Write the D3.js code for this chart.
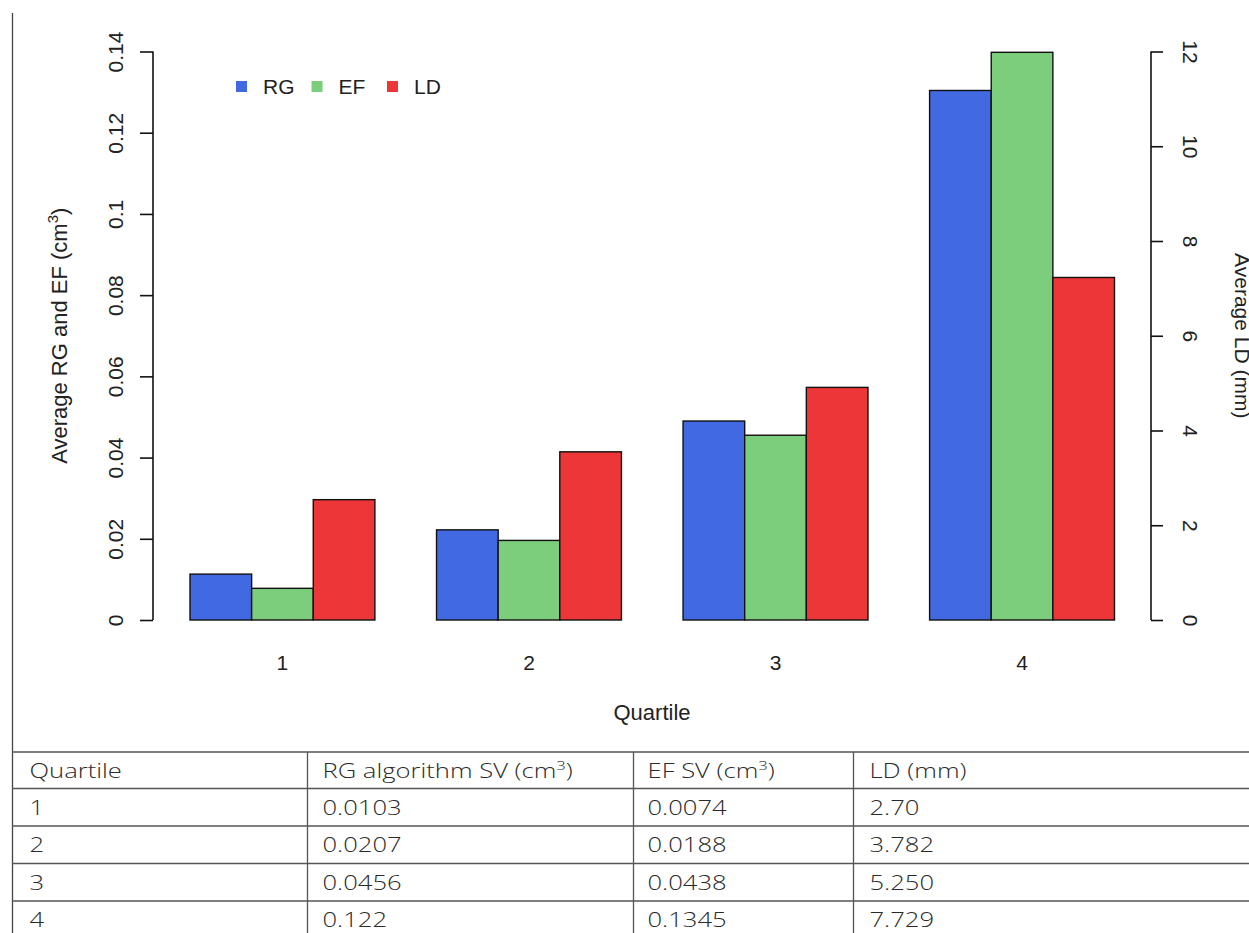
<!DOCTYPE html>
<html>
<head>
<meta charset="utf-8">
<script src="https://cdn.jsdelivr.net/npm/d3@7"></script>
<style>
  body { margin: 0; background: #fff; }
  svg { display: block; }
</style>
</head>
<body>
<svg width="1249" height="933"></svg>
<script>
// values
var quartiles = ["1", "2", "3", "4"];
var series = ["RG", "EF", "LD"];
var rgValues = [0.0113, 0.0222, 0.0490, 0.1304];
var efValues = [0.0078, 0.0196, 0.0455, 0.1398];
var ldValues = [2.54, 3.55, 4.91, 7.23];
var leftTicks = [0, 0.02, 0.04, 0.06, 0.08, 0.1, 0.12, 0.14];
var rightTicks = [0, 2, 4, 6, 8, 10, 12];
var colors = ["#4169e1", "#7ccd7c", "#ec3637"];

// table below the chart
var tableHeader = ["Quartile", "RG algorithm SV (cm|3|)", "EF SV (cm|3|)", "LD (mm)"];
var tableQuartile = ["1", "2", "3", "4"];
var tableRG = ["0.0103", "0.0207", "0.0456", "0.122"];
var tableEF = ["0.0074", "0.0188", "0.0438", "0.1345"];
var tableLD = ["2.70", "3.782", "5.250", "7.729"];

var svg = d3.select("svg");
var font = "'Liberation Sans', Arial, sans-serif";
var fs = 21;

var plot = {left: 153, right: 1151, top: 51.5, bottom: 620};

var yLeft = d3.scaleLinear().domain([0, 0.14]).range([plot.bottom, plot.top]);
var yRight = d3.scaleLinear().domain([0, 12]).range([plot.bottom, plot.top]);

var x0 = d3.scaleBand()
  .domain(quartiles)
  .range([190, 1114.5])
  .paddingInner(0.25)
  .paddingOuter(0);

var x1 = d3.scaleBand()
  .domain(series)
  .range([0, x0.bandwidth()]);

var rows = quartiles.map(function(q, i) {
  return [
    {key: "RG", q: q, y: yLeft(rgValues[i])},
    {key: "EF", q: q, y: yLeft(efValues[i])},
    {key: "LD", q: q, y: yRight(ldValues[i])}
  ];
});

var groups = svg.selectAll("g.grp")
  .data(rows)
  .enter().append("g")
  .attr("class", "grp")
  .attr("transform", function(d, i) { return "translate(" + x0(quartiles[i]) + ",0)"; });

groups.selectAll("rect")
  .data(function(d) { return d; })
  .enter().append("rect")
  .attr("x", function(d) { return x1(d.key); })
  .attr("y", function(d) { return d.y; })
  .attr("width", x1.bandwidth())
  .attr("height", function(d) { return plot.bottom - d.y; })
  .attr("fill", function(d, i) { return colors[i]; })
  .attr("stroke", "#111")
  .attr("stroke-width", 1.4);

// left axis
var leftAxis = svg.append("g")
  .attr("transform", "translate(" + plot.left + ",0)")
  .call(d3.axisLeft(yLeft).tickValues(leftTicks).tickSize(13)
    .tickFormat(function(d) { return String(+d.toFixed(2)); }));
leftAxis.select(".domain").attr("d", "M0," + plot.top + "V" + plot.bottom)
  .attr("stroke", "#111").attr("stroke-width", 1.6);
leftAxis.selectAll(".tick line").attr("stroke", "#111").attr("stroke-width", 1.6);
leftAxis.selectAll(".tick text")
  .attr("x", null).attr("dy", null)
  .attr("transform", "translate(-30,0) rotate(-90)")
  .attr("text-anchor", "middle")
  .attr("font-family", font).attr("font-size", fs).attr("fill", "#222");

// right axis
var rightAxis = svg.append("g")
  .attr("transform", "translate(" + plot.right + ",0)")
  .call(d3.axisRight(yRight).tickValues(rightTicks).tickSize(12));
rightAxis.select(".domain").attr("d", "M0," + plot.top + "V" + plot.bottom)
  .attr("stroke", "#111").attr("stroke-width", 1.6);
rightAxis.selectAll(".tick line").attr("stroke", "#111").attr("stroke-width", 1.6);
rightAxis.selectAll(".tick text")
  .attr("x", null).attr("dy", null)
  .attr("transform", "translate(32,0) rotate(90)")
  .attr("text-anchor", "middle")
  .attr("font-family", font).attr("font-size", fs).attr("fill", "#222");

// x labels
svg.selectAll("text.xlab")
  .data(quartiles)
  .enter().append("text")
  .attr("class", "xlab")
  .attr("x", function(d) { return x0(d) + x0.bandwidth() / 2; })
  .attr("y", 670)
  .attr("text-anchor", "middle")
  .attr("font-family", font).attr("font-size", fs).attr("fill", "#222")
  .text(function(d) { return d; });

svg.append("text")
  .attr("x", (plot.left + plot.right) / 2)
  .attr("y", 720)
  .attr("text-anchor", "middle")
  .attr("font-family", font).attr("font-size", 22).attr("fill", "#222")
  .text("Quartile");

// y titles
var yt = svg.append("text")
  .attr("transform", "translate(67," + (plot.top + plot.bottom) / 2 + ") rotate(-90)")
  .attr("text-anchor", "middle")
  .attr("font-family", font).attr("font-size", 22).attr("fill", "#222");
yt.append("tspan").text("Average RG and EF (cm");
yt.append("tspan").attr("dy", -9).attr("font-size", 15).text("3");
yt.append("tspan").attr("dy", 9).text(")");

svg.append("text")
  .attr("transform", "translate(1235," + (plot.top + plot.bottom) / 2 + ") rotate(90)")
  .attr("text-anchor", "middle")
  .attr("font-family", font).attr("font-size", fs).attr("fill", "#222")
  .text("Average LD (mm)");

// legend
var legend = svg.selectAll("g.leg")
  .data(series)
  .enter().append("g")
  .attr("class", "leg")
  .attr("transform", function(d, i) { return "translate(" + (236 + i * 75.5) + ",81)"; });
legend.append("rect")
  .attr("width", 11).attr("height", 11)
  .attr("fill", function(d, i) { return colors[i]; });
legend.append("text")
  .attr("x", 27).attr("y", 13)
  .attr("font-family", font).attr("font-size", fs).attr("fill", "#222")
  .text(function(d) { return d; });

// frame line on the left
svg.append("line")
  .attr("x1", 12.5).attr("x2", 12.5).attr("y1", 13).attr("y2", 933)
  .attr("stroke", "#444").attr("stroke-width", 1.3);

// table
var colX = [12.5, 307.5, 633.5, 853.5];
var rowY = [752, 788.5, 826, 863.5, 901];
var tfont = "'Open Sans', 'Noto Sans', sans-serif";

svg.selectAll("line.hrow")
  .data(rowY)
  .enter().append("line")
  .attr("class", "hrow")
  .attr("x1", 12).attr("x2", 1249)
  .attr("y1", function(d) { return d; }).attr("y2", function(d) { return d; })
  .attr("stroke", "#555").attr("stroke-width", 1.3);

svg.selectAll("line.vcol")
  .data(colX.slice(1))
  .enter().append("line")
  .attr("class", "vcol")
  .attr("x1", function(d) { return d; }).attr("x2", function(d) { return d; })
  .attr("y1", rowY[0]).attr("y2", 933)
  .attr("stroke", "#555").attr("stroke-width", 1.3);

// the table text in the source is a bit stretched sideways
function cellText(x, y, s) {
  var parts = s.split("|");
  var t = svg.append("text")
    .attr("transform", "translate(" + x + "," + y + ") scale(1.28,1)")
    .attr("font-family", tfont).attr("font-weight", 300)
    .attr("font-size", 20).attr("fill", "#2a2a2a");
  t.append("tspan").text(parts[0]);
  if (parts.length > 1) {
    t.append("tspan").attr("dy", -8).attr("font-size", 13).text(parts[1]);
    t.append("tspan").attr("dy", 8).text(parts[2]);
  }
}

var padX = [17, 15, 14, 16];
tableHeader.forEach(function(h, j) { cellText(colX[j] + padX[j], rowY[0] + 26, h); });
var tableCols = [tableQuartile, tableRG, tableEF, tableLD];
tableCols.forEach(function(col, j) {
  col.forEach(function(v, i) { cellText(colX[j] + padX[j], rowY[i + 1] + 26, v); });
});
</script>
</body>
</html>
